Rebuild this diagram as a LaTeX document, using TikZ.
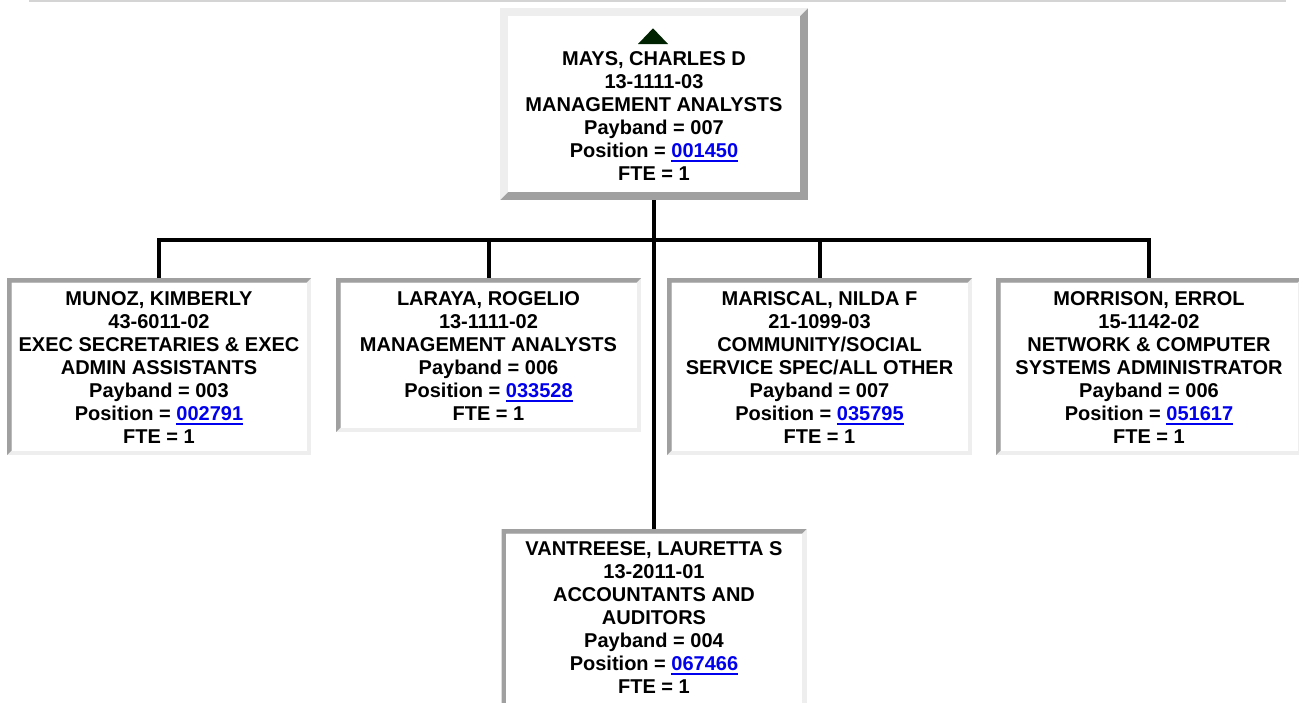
\documentclass[tikz,border=0pt]{standalone}
\usepackage{fontspec}
\setmainfont{Liberation Sans}
\definecolor{linkblue}{RGB}{0,0,238}
\definecolor{bdark}{RGB}{160,160,160}
\definecolor{blight}{RGB}{238,238,238}
\definecolor{trigreen}{RGB}{0,34,0}
\definecolor{topline}{RGB}{212,212,212}
\newcommand\poslink[1]{\textcolor{linkblue}{\setbox0\hbox{#1}\rlap{\rule[-4.3pt]{\wd0}{2pt}}\box0}}
\newlength\bw
% inset border: dark top/left, light bottom/right
\newcommand\insetborder[2]{%
  \setlength\bw{#2}%
  \fill[blight] (#1.south west) rectangle (#1.north east);
  \fill[bdark] (#1.south west) -- (#1.north west) -- (#1.north east)
     -- ([xshift=-\bw,yshift=-\bw]#1.north east) -- ([xshift=\bw,yshift=-\bw]#1.north west)
     -- ([xshift=\bw,yshift=\bw]#1.south west) -- cycle;
  \fill[white] ([xshift=\bw,yshift=\bw]#1.south west) rectangle ([xshift=-\bw,yshift=-\bw]#1.north east);
}
% outset border: light top/left, dark bottom/right
\newcommand\outsetborder[2]{%
  \setlength\bw{#2}%
  \fill[bdark] (#1.south west) rectangle (#1.north east);
  \fill[blight] (#1.south west) -- (#1.north west) -- (#1.north east)
     -- ([xshift=-\bw,yshift=-\bw]#1.north east) -- ([xshift=\bw,yshift=-\bw]#1.north west)
     -- ([xshift=\bw,yshift=\bw]#1.south west) -- cycle;
  \fill[white] ([xshift=\bw,yshift=\bw]#1.south west) rectangle ([xshift=-\bw,yshift=-\bw]#1.north east);
}
\tikzset{
  boxarea/.style={draw=none, inner sep=0pt, outer sep=0pt, minimum width=#1},
  txt/.style={inner sep=0pt, outer sep=0pt, align=center, anchor=north,
    font=\fontsize{20}{23}\selectfont\bfseries, text=black},
  conn/.style={draw=black, line width=4pt}
}
\begin{document}
\begin{tikzpicture}[x=1pt,y=-1pt]
\useasboundingbox (0,0) rectangle (1299,702);
\clip (0,0) rectangle (1299,702);
\fill[white] (0,0) rectangle (1299,702);
\draw[topline, line width=1.5pt] (29,0.75) -- (1286,0.75);

% box areas
\node[boxarea=308pt, minimum height=192pt] (mays) at (654,104) {};
\node[boxarea=304pt, minimum height=177pt] (munoz) at (159,366.5) {};
\node[boxarea=305pt, minimum height=154pt] (laraya) at (488.5,355) {};
\node[boxarea=305pt, minimum height=177pt] (mariscal) at (819.5,366.5) {};
\node[boxarea=306pt, minimum height=177pt] (morrison) at (1149,366.5) {};
\node[boxarea=305pt, minimum height=200pt] (vant) at (654,629) {};

\outsetborder{mays}{8pt}
\insetborder{munoz}{4.5pt}
\insetborder{laraya}{4.5pt}
\insetborder{mariscal}{4.5pt}
\insetborder{morrison}{4.5pt}
\insetborder{vant}{4.5pt}

% connectors
\coordinate (bar) at (654,240);
\draw[conn] (munoz.north) |- (bar) -| (morrison.north);
\draw[conn] (laraya.north) -- (laraya.north |- bar);
\draw[conn] (mariscal.north) -- (mariscal.north |- bar);
\draw[conn] (mays.south) -- (vant.north);

% up triangle
\fill[trigreen] (638,44) -- (653,28.3) -- (668,44) -- cycle;

% texts
\node[txt] (mayst) at ([yshift=-44pt]mays.north) {MAYS, CHARLES D\\13-1111-03\\MANAGEMENT ANALYSTS\\Payband = 007\\Position = \poslink{001450}\\FTE = 1};
\node[txt] (munozt) at ([yshift=-13.7pt]munoz.north) {MUNOZ, KIMBERLY\\43-6011-02\\EXEC SECRETARIES \& EXEC\\ADMIN ASSISTANTS\\Payband = 003\\Position = \poslink{002791}\\FTE = 1};
\node[txt] (larayat) at ([yshift=-13.7pt]laraya.north) {LARAYA, ROGELIO\\13-1111-02\\MANAGEMENT ANALYSTS\\Payband = 006\\Position = \poslink{033528}\\FTE = 1};
\node[txt] (mariscalt) at ([yshift=-13.7pt]mariscal.north) {MARISCAL, NILDA F\\21-1099-03\\COMMUNITY/SOCIAL\\SERVICE SPEC/ALL OTHER\\Payband = 007\\Position = \poslink{035795}\\FTE = 1};
\node[txt] (morrisont) at ([yshift=-13.7pt]morrison.north) {MORRISON, ERROL\\15-1142-02\\NETWORK \& COMPUTER\\SYSTEMS ADMINISTRATOR\\Payband = 006\\Position = \poslink{051617}\\FTE = 1};
\node[txt] (vantt) at ([yshift=-12.7pt]vant.north) {VANTREESE, LAURETTA S\\13-2011-01\\ACCOUNTANTS AND\\AUDITORS\\Payband = 004\\Position = \poslink{067466}\\FTE = 1};
\end{tikzpicture}
\end{document}
